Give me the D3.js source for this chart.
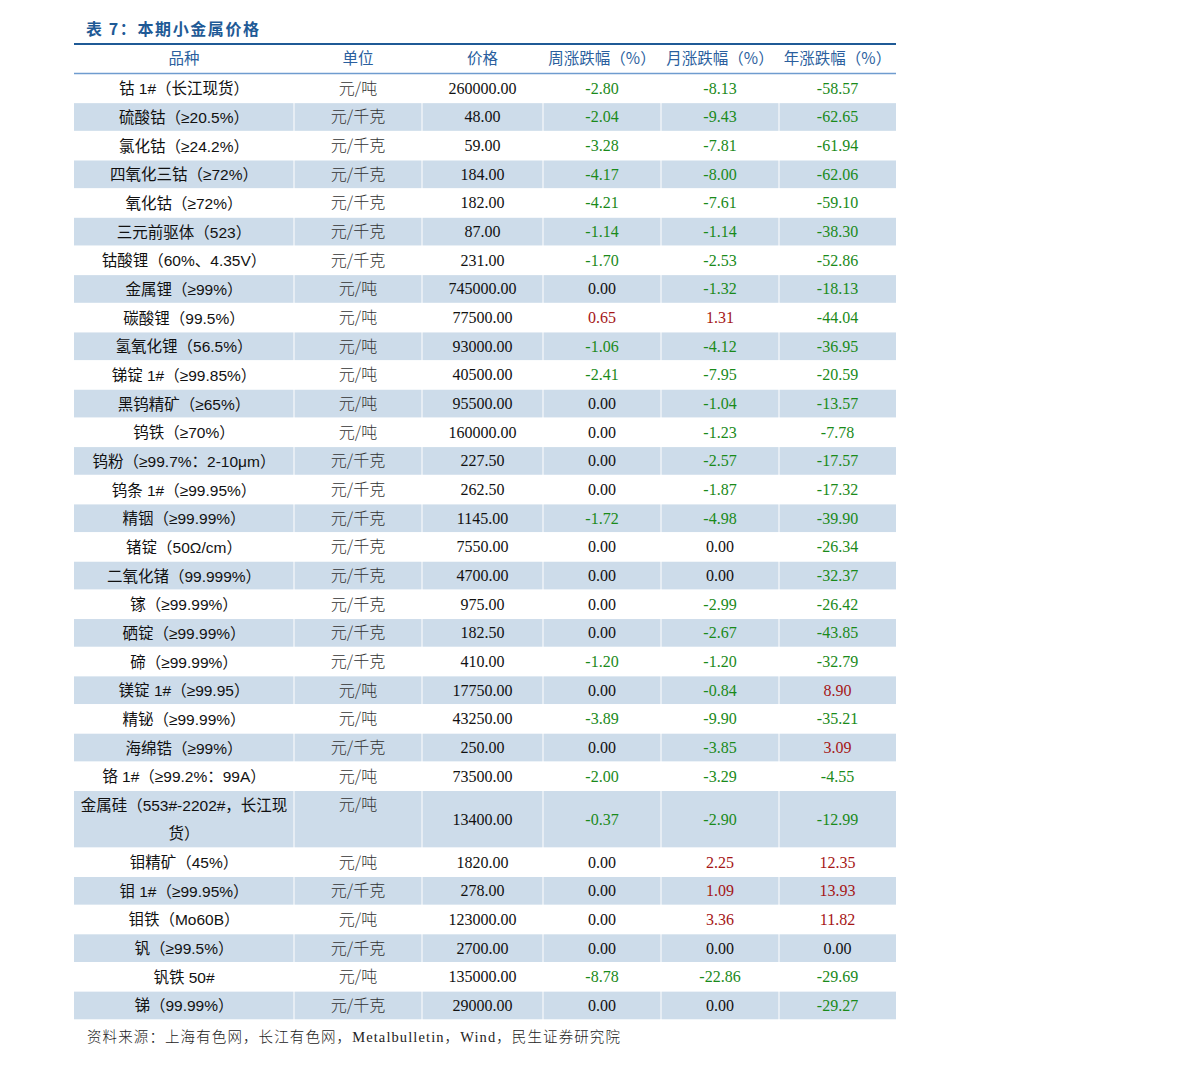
<!DOCTYPE html>
<meta charset="utf-8">
<style>
  body { margin: 0; background: #fff; }
</style>
<svg width="1191" height="1066"></svg>
<script src="https://d3js.org/d3.v7.min.js"></script>
<script>

var title = "表 7：本期小金属价格";
var source = "资料来源：上海有色网，长江有色网，Metalbulletin，Wind，民生证券研究院";
var headers = ["品种", "单位", "价格", "周涨跌幅（%）", "月涨跌幅（%）", "年涨跌幅（%）"];

var names = [
  "钴 1#（长江现货）", "硫酸钴（≥20.5%）", "氯化钴（≥24.2%）", "四氧化三钴（≥72%）",
  "氧化钴（≥72%）", "三元前驱体（523）", "钴酸锂（60%、4.35V）", "金属锂（≥99%）",
  "碳酸锂（99.5%）", "氢氧化锂（56.5%）", "锑锭 1#（≥99.85%）", "黑钨精矿（≥65%）",
  "钨铁（≥70%）", "钨粉（≥99.7%：2-10μm）", "钨条 1#（≥99.95%）", "精铟（≥99.99%）",
  "锗锭（50Ω/cm）", "二氧化锗（99.999%）", "镓（≥99.99%）", "硒锭（≥99.99%）",
  "碲（≥99.99%）", "镁锭 1#（≥99.95）", "精铋（≥99.99%）", "海绵锆（≥99%）",
  "铬 1#（≥99.2%：99A）", "金属硅（553#-2202#，长江现货）", "钼精矿（45%）", "钼 1#（≥99.95%）",
  "钼铁（Mo60B）", "钒（≥99.5%）", "钒铁 50#", "锑（99.99%）"
];
var units = [
  "元/吨", "元/千克", "元/千克", "元/千克", "元/千克", "元/千克", "元/千克", "元/吨",
  "元/吨", "元/吨", "元/吨", "元/吨", "元/吨", "元/千克", "元/千克", "元/千克",
  "元/千克", "元/千克", "元/千克", "元/千克", "元/千克", "元/吨", "元/吨", "元/千克",
  "元/吨", "元/吨", "元/吨", "元/千克", "元/吨", "元/千克", "元/吨", "元/千克"
];
var prices = [
  260000, 48, 59, 184, 182, 87, 231, 745000,
  77500, 93000, 40500, 95500, 160000, 227.5, 262.5, 1145,
  7550, 4700, 975, 182.5, 410, 17750, 43250, 250,
  73500, 13400, 1820, 278, 123000, 2700, 135000, 29000
];
var weekChg = [
  -2.80, -2.04, -3.28, -4.17, -4.21, -1.14, -1.70, 0.00,
  0.65, -1.06, -2.41, 0.00, 0.00, 0.00, 0.00, -1.72,
  0.00, 0.00, 0.00, 0.00, -1.20, 0.00, -3.89, 0.00,
  -2.00, -0.37, 0.00, 0.00, 0.00, 0.00, -8.78, 0.00
];
var monthChg = [
  -8.13, -9.43, -7.81, -8.00, -7.61, -1.14, -2.53, -1.32,
  1.31, -4.12, -7.95, -1.04, -1.23, -2.57, -1.87, -4.98,
  0.00, 0.00, -2.99, -2.67, -1.20, -0.84, -9.90, -3.85,
  -3.29, -2.90, 2.25, 1.09, 3.36, 0.00, -22.86, 0.00
];
var yearChg = [
  -58.57, -62.65, -61.94, -62.06, -59.10, -38.30, -52.86, -18.13,
  -44.04, -36.95, -20.59, -13.57, -7.78, -17.57, -17.32, -39.90,
  -26.34, -32.37, -26.42, -43.85, -32.79, 8.90, -35.21, 3.09,
  -4.55, -12.99, 12.35, 13.93, 11.82, 0.00, -29.69, -29.27
];

var svg = d3.select("svg");
var fmt = d3.formatLocale({ decimal: ".", thousands: ",", grouping: [3], currency: ["", ""], minus: "-" }).format(".2f");

var cjk = "'Noto Sans CJK SC', 'Noto Sans', sans-serif";
var mixed = "'Liberation Sans', 'Noto Sans CJK SC', sans-serif";
var serif = "'Liberation Serif', 'DejaVu Serif', serif";
var serifCjk = "'Liberation Serif', 'Noto Sans CJK SC', serif";
var blue = "#1f5a96";
var shade = "#cddcea";
var green = "#1a8a1a";
var red = "#a51616";

// column layout
var edges = [74, 294, 422, 543, 661, 779, 896];
var colMid = function(i) { return (edges[i] + edges[i + 1]) / 2; };

// wrap the name column: split by character when wider than the cell
var measure = svg.append("text").attr("font-family", mixed).attr("font-size", 15.5);
function textWidth(s) { measure.text(s); return measure.node().getComputedTextLength(); }
var maxW = edges[1] - edges[0] - 8;
var lines = names.map(function(n) {
  var out = [], cur = "";
  Array.from(n).forEach(function(ch) {
    if (cur && textWidth(cur + ch) > maxW) { out.push(cur); cur = ch; }
    else cur += ch;
  });
  out.push(cur);
  return out;
});
measure.remove();

var rows = names.map(function(n, i) {
  return { i: i, name: n, lines: lines[i], unit: units[i], price: prices[i],
           chg: [weekChg[i], monthChg[i], yearChg[i]], span: lines[i].length };
});
var acc = 0;
rows.forEach(function(r) { r.start = acc; acc += r.span; });

var y = d3.scaleLinear().domain([0, acc]).range([74, 1019.8]);

// title
svg.append("text")
  .attr("x", 86).attr("y", 35)
  .attr("font-family", cjk).attr("font-size", 16).attr("font-weight", "bold")
  .attr("fill", blue).attr("letter-spacing", 1.6)
  .text(title);

// header
svg.append("line").attr("x1", edges[0]).attr("x2", edges[6]).attr("y1", 44).attr("y2", 44)
  .attr("stroke", blue).attr("stroke-width", 2);
svg.selectAll("text.hdr").data(headers).enter().append("text")
  .attr("class", "hdr")
  .attr("x", function(d, i) { return colMid(i); })
  .attr("y", 64)
  .attr("text-anchor", "middle")
  .attr("font-family", cjk).attr("font-size", 15.5)
  .attr("fill", "#2b5f9e")
  .text(function(d) { return d; });
svg.append("line").attr("x1", edges[0]).attr("x2", edges[6]).attr("y1", 73.5).attr("y2", 73.5)
  .attr("stroke", "#6f9ccf").attr("stroke-width", 1.5);

// rows
var g = svg.selectAll("g.row").data(rows).enter().append("g").attr("class", "row");

g.filter(function(d) { return d.i % 2 === 1; })
  .selectAll("rect")
  .data(function(d) { return d3.range(6).map(function(c) { return { c: c, r: d }; }); })
  .enter().append("rect")
  .attr("x", function(d) { return edges[d.c] + (d.c ? 0.5 : 0); })
  .attr("width", function(d) { return edges[d.c + 1] - edges[d.c] - (d.c ? 0.5 : 0) - (d.c < 5 ? 0.5 : 0); })
  .attr("y", function(d) { return y(d.r.start) + 0.5; })
  .attr("height", function(d) { return y(d.r.start + d.r.span) - y(d.r.start) - 1; })
  .attr("fill", shade);

function rowMid(d) { return (y(d.start) + y(d.start + d.span)) / 2; }
function rowTop(d) { return (y(d.start) + y(d.start + 1)) / 2; }

g.selectAll("text.name")
  .data(function(d) { return d.lines.map(function(l, k) { return { l: l, k: k, r: d }; }); })
  .enter().append("text")
  .attr("class", "name")
  .attr("x", colMid(0))
  .attr("y", function(d) { return rowTop(d.r) + d.k * 28.6 + 6; })
  .attr("text-anchor", "middle")
  .attr("font-family", mixed).attr("font-size", 15.5).attr("fill", "#111")
  .text(function(d) { return d.l; });

g.append("text")
  .attr("x", colMid(1))
  .attr("y", function(d) { return rowTop(d) + 5.5; })
  .attr("text-anchor", "middle")
  .attr("font-family", cjk).attr("font-size", 16).attr("font-weight", 300).attr("fill", "#333")
  .text(function(d) { return d.unit; });

g.append("text")
  .attr("x", colMid(2))
  .attr("y", function(d) { return rowMid(d) + 5.5; })
  .attr("text-anchor", "middle")
  .attr("font-family", serif).attr("font-size", 16).attr("fill", "#111")
  .text(function(d) { return fmt(d.price); });

g.selectAll("text.chg")
  .data(function(d) { return d.chg.map(function(v, k) { return { v: v, k: k, r: d }; }); })
  .enter().append("text")
  .attr("class", "chg")
  .attr("x", function(d) { return colMid(d.k + 3); })
  .attr("y", function(d) { return rowMid(d.r) + 5.5; })
  .attr("text-anchor", "middle")
  .attr("font-family", serif).attr("font-size", 16)
  .attr("fill", function(d) { return d.v < 0 ? green : d.v > 0 ? red : "#111"; })
  .text(function(d) { return fmt(d.v); });

// source
svg.append("text")
  .attr("x", 87).attr("y", 1042)
  .attr("font-family", serifCjk).attr("font-size", 14.5).attr("font-weight", 300).attr("fill", "#222")
  .attr("letter-spacing", 1.1)
  .text(source);

</script>
